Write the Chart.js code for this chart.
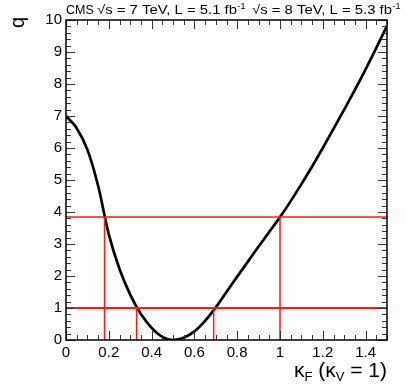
<!DOCTYPE html>
<html>
<head>
<meta charset="UTF-8">
<title>q vs kappa_F</title>
<script src="https://cdn.jsdelivr.net/npm/chart.js@4/dist/chart.umd.min.js"></script>
<style>
  html, body { margin: 0; padding: 0; background: #fff; }
  #wrap { width: 407px; height: 391px; }
</style>
</head>
<body>
<div id="wrap"><canvas id="chart" width="407" height="391"></canvas></div>
<script>
// scan of q versus kappa_F
var kappaF = [0, 0.05, 0.1, 0.15, 0.2, 0.25, 0.3, 0.35, 0.4, 0.45, 0.5, 0.55, 0.6, 0.65, 0.7, 0.75,
              0.8, 0.85, 0.9, 0.95, 1.0, 1.05, 1.1, 1.15, 1.2, 1.25, 1.3, 1.35, 1.4, 1.45, 1.5];
var qValues = [7.0, 6.62, 5.95, 4.82, 3.3, 2.22, 1.42, 0.81, 0.38, 0.1, 0.0, 0.07, 0.27, 0.6, 1.02, 1.5,
               1.98, 2.45, 2.92, 3.38, 3.84, 4.34, 4.87, 5.42, 6.0, 6.6, 7.2, 7.82, 8.46, 9.13, 9.82];

// confidence levels and where the curve crosses them
var levels = [1, 3.84];
var cross68 = [0.33, 0.69];
var cross95 = [0.18, 1.0];

var xTicks = [0, 0.2, 0.4, 0.6, 0.8, 1, 1.2, 1.4];
var yTicks = [0, 1, 2, 3, 4, 5, 6, 7, 8, 9, 10];

var FONT = '"Liberation Sans", Arial, Helvetica, sans-serif';
var RED = '#ff1a1a';

function pts(xs, ys) {
    return xs.map(function(x, i) { return { x: x, y: ys[i] }; });
}

var datasets = [];
// horizontal level lines
datasets.push({ data: pts([0, 1.5], [levels[0], levels[0]]), borderColor: RED, borderWidth: 2.2 });
datasets.push({ data: pts([0, 1.5], [levels[1], levels[1]]), borderColor: RED, borderWidth: 1.5 });
// vertical drop lines
cross68.forEach(function(c) {
    datasets.push({ data: pts([c, c], [0, levels[0]]), borderColor: RED, borderWidth: 1.5 });
});
cross95.forEach(function(c) {
    datasets.push({ data: pts([c, c], [0, levels[1]]), borderColor: RED, borderWidth: 1.5 });
});
// the likelihood scan itself
datasets.push({ data: pts(kappaF, qValues), borderColor: '#000', borderWidth: 2.7, tension: 0.35 });
datasets.forEach(function(d) { d.showLine = true; d.pointRadius = 0; d.fill = false; });
// draw curve first, red lines on top
datasets.forEach(function(d, i) { d.order = (i === datasets.length - 1) ? 2 : 1; });

// frame, inward ticks on all four sides, axis titles and header text
var rootStyle = {
    id: 'rootStyle',
    afterDatasetsDraw: function(chart) {
        var ctx = chart.ctx;
        var a = chart.chartArea;
        var xs = chart.scales.x, ys = chart.scales.y;
        var i, v, px, len;
        ctx.save();
        ctx.strokeStyle = '#333';
        ctx.lineWidth = 1;
        ctx.beginPath();
        for (i = 0; i <= 30; i++) {
            v = i * 0.05;
            px = Math.round(xs.getPixelForValue(v)) + 0.5;
            len = (i % 4 === 0) ? 9 : 5;
            ctx.moveTo(px, a.bottom); ctx.lineTo(px, a.bottom - len);
            ctx.moveTo(px, a.top); ctx.lineTo(px, a.top + len);
        }
        for (i = 0; i <= 50; i++) {
            v = i * 0.2;
            px = Math.round(ys.getPixelForValue(v)) + 0.5;
            len = (i % 5 === 0) ? 9 : 5;
            ctx.moveTo(a.left, px); ctx.lineTo(a.left + len, px);
            ctx.moveTo(a.right, px); ctx.lineTo(a.right - len, px);
        }
        ctx.stroke();

        ctx.strokeStyle = '#000';
        ctx.lineWidth = 1.5;
        ctx.strokeRect(a.left, a.top, a.right - a.left, a.bottom - a.top);

        ctx.fillStyle = '#000';
        ctx.textBaseline = 'alphabetic';

        // x title: kappa_F (kappa_V = 1)
        var parts = [
            { t: 'κ', s: 21, dy: 0 },
            { t: 'F', s: 13, dy: 4 },
            { t: ' (κ', s: 21, dy: 0 },
            { t: 'V', s: 13, dy: 4 },
            { t: ' = 1)', s: 21, dy: 0 }
        ];
        var w = 0;
        parts.forEach(function(p) { ctx.font = p.s + 'px ' + FONT; p.w = ctx.measureText(p.t).width; w += p.w; });
        var x0 = a.right - w, base = 377;
        ctx.textAlign = 'left';
        parts.forEach(function(p) { ctx.font = p.s + 'px ' + FONT; ctx.fillText(p.t, x0, base + p.dy); x0 += p.w; });

        // y title
        ctx.save();
        ctx.translate(24, 17);
        ctx.rotate(-Math.PI / 2);
        ctx.textAlign = 'right';
        ctx.font = '20px ' + FONT;
        ctx.fillText('q', 0, 0);
        ctx.restore();

        // header, lumi strings stretched to the widths seen in the picture
        ctx.textAlign = 'left';
        function stretched(txt, x, y, size, width) {
            ctx.font = size + 'px ' + FONT;
            var m = ctx.measureText(txt).width;
            ctx.save();
            ctx.translate(x, y);
            ctx.scale(width / m, 1);
            ctx.fillText(txt, 0, 0);
            ctx.restore();
            return x + width;
        }
        ctx.font = '12.5px ' + FONT;
        ctx.fillText('CMS', 66, 13.5);
        function lumi(x, txt) {
            var e = stretched(txt, x, 13.5, 12.5, 140);
            ctx.font = '9px ' + FONT;
            ctx.fillText('-1', e + 0.5, 8.5);
        }
        lumi(97, '√s = 7 TeV, L = 5.1 fb');
        lumi(252, '√s = 8 TeV, L = 5.3 fb');
        ctx.restore();
    }
};

new Chart(document.getElementById('chart'), {
    type: 'scatter',
    data: { datasets: datasets },
    options: {
        responsive: false,
        animation: false,
        events: [],
        layout: { padding: { left: 0, right: 20, top: 20, bottom: 0 } },
        plugins: { legend: { display: false }, tooltip: { enabled: false } },
        scales: {
            x: {
                type: 'linear', min: 0, max: 1.5,
                grid: { display: false, drawTicks: false },
                border: { display: false },
                afterBuildTicks: function(s) { s.ticks = xTicks.map(function(v) { return { value: v }; }); },
                afterFit: function(s) { s.height = 51; },
                ticks: {
                    padding: 4, maxRotation: 0, autoSkip: false, color: '#000',
                    font: { family: FONT, size: 15 },
                    callback: function(v) { return String(Math.round(v * 10) / 10); }
                }
            },
            y: {
                type: 'linear', min: 0, max: 10,
                grid: { display: false, drawTicks: false },
                border: { display: false },
                afterBuildTicks: function(s) { s.ticks = yTicks.map(function(v) { return { value: v }; }); },
                afterFit: function(s) { s.width = 66; },
                ticks: {
                    padding: 4, autoSkip: false, color: '#000',
                    font: { family: FONT, size: 15 },
                    callback: function(v) { return String(v); }
                }
            }
        }
    },
    plugins: [rootStyle]
});
</script>
</body>
</html>
